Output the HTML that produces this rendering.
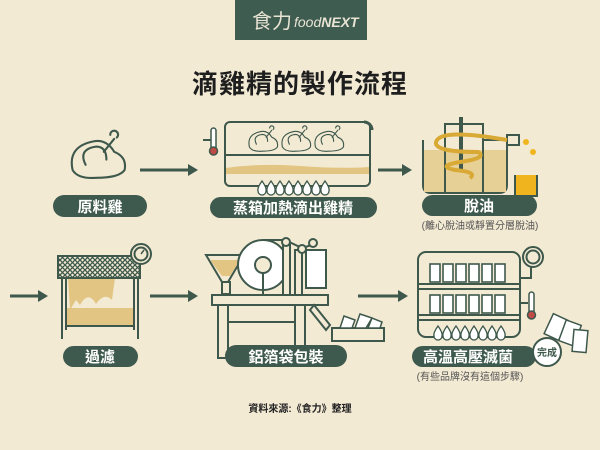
<!DOCTYPE html>
<html><head><meta charset="utf-8"><style>
html,body{margin:0;padding:0;background:#f3ead4;}
svg{display:block}
text{font-family:"Liberation Sans","Noto Sans CJK TC",sans-serif;}
</style></head><body>
<svg width="600" height="450" viewBox="0 0 600 450" xmlns="http://www.w3.org/2000/svg">
<defs>
<pattern id="mesh" width="5" height="5" patternUnits="userSpaceOnUse">
<rect width="5" height="5" fill="#f3ead4"/><path d="M0 0L5 5M5 0L0 5" stroke="#3e584c" stroke-width="1.3"/>
</pattern>
<g id="drop"><path d="M0 -7 Q5 0 4 3 A4 4 0 0 1 -4 3 Q-5 0 0 -7Z" fill="#fff" stroke="#3e584c" stroke-width="1.3"/></g>
<g id="chick" fill="none" stroke="#3e584c" stroke-width="1.6" stroke-linecap="round">
<path d="M-18 0 Q-22 -18 -2 -22 Q8 -24 14 -14 Q24 -10 22 0 Q18 6 0 6 Q-14 7 -18 0Z" fill="#f3ead4"/>
<path d="M-8 -4 Q-14 -16 0 -18 Q8 -18 8 -8"/>
<path d="M6 -14 L14 -24 M11 -27 a3 3 0 1 1 5 2"/>
</g>
</defs>

<rect x="235" y="0" width="132" height="40" fill="#3e5c50"/>
<text x="252" y="28" font-size="20" fill="#e9e4d4" font-family="'Noto Serif CJK SC',serif">食力</text>
<text x="294" y="27" font-size="14" fill="#e9e4d4" font-style="italic">food<tspan font-weight="bold">NEXT</tspan></text>

<text x="300" y="93" text-anchor="middle" font-size="26" font-weight="bold" fill="#1e1e1e" letter-spacing="1">滴雞精的製作流程</text>

<g stroke="#3e584c" stroke-width="3" fill="#3e584c">
<line x1="140" y1="170" x2="190" y2="170"/><path d="M188 164 L198 170 L188 176Z" stroke="none"/>
<line x1="378" y1="170" x2="404" y2="170"/><path d="M402 164 L412 170 L402 176Z" stroke="none"/>
<line x1="10" y1="296" x2="40" y2="296"/><path d="M38 290 L48 296 L38 302Z" stroke="none"/>
<line x1="150" y1="296" x2="190" y2="296"/><path d="M188 290 L198 296 L188 302Z" stroke="none"/>
<line x1="358" y1="296" x2="400" y2="296"/><path d="M398 290 L408 296 L398 302Z" stroke="none"/>
</g>

<g transform="translate(96,170) scale(1.3)"><use href="#chick"/></g>

<g stroke="#3e584c" stroke-width="2" fill="none">
<rect x="225" y="122" width="145" height="64" rx="5" fill="#f3ead4"/>
<line x1="225" y1="155" x2="370" y2="155"/>
<path d="M226 168 Q260 163 300 166 T369 167 L369 174 L226 174Z" fill="#e2c583" stroke="none"/>
<path d="M364 122 A8 8 0 0 1 372 130" stroke-width="3"/>
<line x1="203" y1="140" x2="212" y2="140"/>
<rect x="211" y="128" width="5" height="22" rx="2.5" fill="#fff" stroke-width="1.5"/>
<circle cx="213.5" cy="151" r="4" fill="#c04a45" stroke-width="1.5"/>
</g>
<g transform="translate(262,147) scale(0.7)"><use href="#chick"/></g>
<g transform="translate(295,147) scale(0.7)"><use href="#chick"/></g>
<g transform="translate(328,147) scale(0.7)"><use href="#chick"/></g>
<g transform="translate(0,188)">
<use href="#drop" x="262"/><use href="#drop" x="271"/><use href="#drop" x="280"/><use href="#drop" x="289"/><use href="#drop" x="298"/><use href="#drop" x="307"/><use href="#drop" x="316"/><use href="#drop" x="325"/>
</g>

<g stroke="#3e584c" stroke-width="2" fill="none">
<path d="M423 140 L423 185 Q423 193 431 193 L499 193 Q507 193 507 185 L507 140" />
<rect x="424" y="150" width="82" height="42" fill="#e7d095" stroke="none"/>
<rect x="445" y="124" width="38" height="69"/>
<line x1="461" y1="117" x2="461" y2="172" stroke-width="4"/>
<line x1="483" y1="140" x2="518" y2="140"/><rect x="507" y="135" width="12" height="10" fill="#f3ead4"/>
<path d="M507 140 Q440 128 436 142 Q434 152 478 152 Q488 158 460 162 Q436 166 455 170 Q478 172 470 178" stroke="#d9a935" stroke-width="4"/>
<path d="M515 175 L515 196 L537 196 L537 175" fill="#f0b51e"/>
</g>
<circle cx="526" cy="142" r="3" fill="#f0b51e"/><circle cx="533" cy="152" r="3" fill="#f0b51e"/>

<g stroke="#3e584c" stroke-width="2" fill="none">
<rect x="65" y="278" width="70" height="48" fill="#f3ead4" stroke="none"/>
<path d="M68 278 L115 278 L112 300 Q104 292 96 304 Q88 290 80 305 L76 300 L70 310Z" fill="#e2c583" stroke="none"/>
<rect x="66" y="308" width="68" height="17" fill="#e2c583" stroke="none"/>
<line x1="62" y1="278" x2="62" y2="339"/><line x1="138" y1="278" x2="138" y2="339"/>
<line x1="66" y1="278" x2="66" y2="330"/><line x1="134" y1="278" x2="134" y2="330"/>
<line x1="66" y1="326" x2="134" y2="326"/>
<rect x="58" y="256" width="82" height="22" fill="url(#mesh)"/>
<circle cx="141" cy="254" r="10" fill="#f3ead4"/><circle cx="141" cy="254" r="6.5"/>
<line x1="141" y1="254" x2="144" y2="250" stroke-width="1.5"/>
</g>

<g stroke="#3e584c" stroke-width="2" fill="#f3ead4">
<path d="M206 255 L244 255 L228 282 L222 282Z" fill="#f3ead4"/>
<path d="M210 260 L240 260 L230 276 L222 276Z" fill="#e2c583" stroke="none"/>
<rect x="222" y="282" width="8" height="12" fill="#f3ead4"/>
<circle cx="263" cy="265" r="25" fill="#fff"/>
<circle cx="263" cy="265" r="8"/>
<line x1="263" y1="273" x2="263" y2="294"/>
<path d="M263 240 L285 240 L302 248 L315 244"/>
<rect x="283" y="245" width="7" height="50"/>
<rect x="295" y="250" width="7" height="45"/>
<rect x="306" y="250" width="20" height="38" fill="#fff"/>
<circle cx="286" cy="242" r="4"/><circle cx="302" cy="249" r="4"/><circle cx="313" cy="243" r="4"/>
<rect x="212" y="295" width="116" height="10"/>
<rect x="218" y="305" width="10" height="53"/><rect x="295" y="305" width="10" height="53"/>
<line x1="228" y1="322" x2="295" y2="322"/>
<path d="M314 305 L330 325 L326 330 L310 310Z"/>
<rect x="332" y="328" width="52" height="13"/>
<path d="M340 328 L344 316 L355 320 L352 328Z M355 328 L360 314 L372 318 L368 328Z M366 328 L372 318 L382 322 L380 328Z" fill="#fff" stroke-width="1.5"/>
</g>

<g stroke="#3e584c" stroke-width="2" fill="none">
<rect x="418" y="252" width="102" height="85" rx="8" fill="#f3ead4"/>
<line x1="418" y1="284" x2="520" y2="284"/><line x1="418" y1="289" x2="520" y2="289"/>
<line x1="418" y1="315" x2="520" y2="315"/><line x1="418" y1="320" x2="520" y2="320"/>
<g fill="#fff" stroke-width="1.6">
<rect x="430" y="264" width="10" height="18"/><rect x="443" y="264" width="10" height="18"/><rect x="456" y="264" width="10" height="18"/><rect x="469" y="264" width="10" height="18"/><rect x="482" y="264" width="10" height="18"/><rect x="495" y="264" width="10" height="18"/>
<rect x="430" y="295" width="10" height="18"/><rect x="443" y="295" width="10" height="18"/><rect x="456" y="295" width="10" height="18"/><rect x="469" y="295" width="10" height="18"/><rect x="482" y="295" width="10" height="18"/><rect x="495" y="295" width="10" height="18"/>
</g>
<path d="M520 278 L531 278 L531 267"/>
<circle cx="533" cy="257" r="10" fill="#f3ead4"/><circle cx="533" cy="257" r="6.5"/>
<line x1="520" y1="303" x2="528" y2="303"/>
<rect x="529" y="292" width="5" height="22" rx="2.5" fill="#fff" stroke-width="1.5"/>
<circle cx="531.5" cy="315" r="4" fill="#c04a45" stroke-width="1.5"/>
<g fill="#fff" stroke-width="1.5">
<rect x="548" y="316" width="16" height="22" transform="rotate(25 556 327)"/>
<rect x="562" y="322" width="16" height="22" transform="rotate(20 570 333)"/>
<rect x="573" y="330" width="14" height="22" transform="rotate(5 580 341)"/>
</g>
</g>
<g transform="translate(0,333)">
<use href="#drop" x="438"/><use href="#drop" x="447"/><use href="#drop" x="456"/><use href="#drop" x="465"/><use href="#drop" x="474"/><use href="#drop" x="483"/><use href="#drop" x="492"/><use href="#drop" x="501"/>
</g>

<g fill="#3e5a4e">
<rect x="53" y="195" width="94" height="22" rx="11"/>
<rect x="210" y="197" width="167" height="21" rx="10.5"/>
<rect x="422" y="195" width="115" height="21" rx="10.5"/>
<rect x="63" y="346" width="75" height="21" rx="10.5"/>
<rect x="225" y="345" width="122" height="22" rx="11"/>
<rect x="412" y="346" width="124" height="21" rx="10.5"/>
</g>
<g fill="#fff" font-size="15" font-weight="bold" text-anchor="middle">
<text x="100" y="212">原料雞</text>
<text x="293" y="213">蒸箱加熱滴出雞精</text>
<text x="479" y="211">脫油</text>
<text x="100" y="362">過濾</text>
<text x="286" y="362">鋁箔袋包裝</text>
<text x="468" y="362">高溫高壓滅菌</text>
</g>
<circle cx="547" cy="352" r="14" fill="#fff" stroke="#3e584c" stroke-width="2"/>
<text x="547" y="356" text-anchor="middle" font-size="10" font-weight="bold" fill="#3e584c">完成</text>
<g fill="#555" font-size="10" text-anchor="middle">
<text x="480" y="229">(離心脫油或靜置分層脫油)</text>
<text x="470" y="380">(有些品牌沒有這個步驟)</text>
</g>
<text x="300" y="412" text-anchor="middle" font-size="10" font-weight="bold" fill="#222">資料來源:《食力》整理</text>
</svg>
</body></html>
